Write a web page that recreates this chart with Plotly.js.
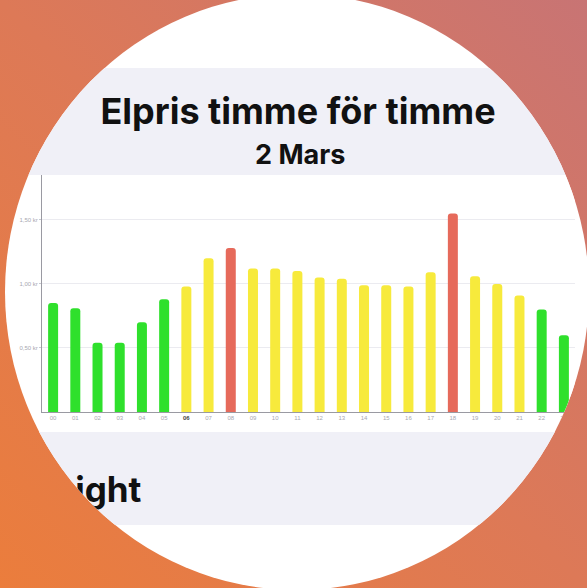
<!DOCTYPE html>
<html>
<head>
<meta charset="utf-8">
<script src="https://cdn.plot.ly/plotly-3.0.1.min.js"></script>
<style>
  html, body { margin: 0; padding: 0; }
  body {
    width: 587px; height: 588px; overflow: hidden; position: relative;
    background: linear-gradient(45deg, #eb7d3c 0%, #dd7957 50%, #c87474 100%);
  }
  #clip {
    position: absolute; left: 5px; top: -6px; width: 584px; height: 596px;
    border-radius: 50%; overflow: hidden; background: #ffffff;
  }
  #chart { position: absolute; left: -5px; top: 6px; width: 587px; height: 588px; }
</style>
</head>
<body>
<div id="clip"><div id="chart"></div></div>
<script>
// ---- data ----
const hours = ["00","01","02","03","04","05","06","07","08","09","10","11",
               "12","13","14","15","16","17","18","19","20","21","22","23"];
const prices = [0.85, 0.81, 0.54, 0.54, 0.70, 0.88, 0.98, 1.20, 1.28, 1.12, 1.12, 1.10,
                1.05, 1.04, 0.99, 0.99, 0.98, 1.09, 1.55, 1.06, 1.00, 0.91, 0.80, 0.60];
const yTickVals = [0.5, 1.0, 1.5];
const yTickText = ["0,50 kr", "1,00 kr", "1,50 kr"];
const currentHour = "06";
const titleText = "Elpris timme för timme";
const subtitleText = "2 Mars";
const footerText = "Insight";

// colour levels
const GREEN = "#2fe02c", YELLOW = "#f7ea3c", RED = "#e66a5b";
const barColors = prices.map(v => v < 0.9 ? GREEN : (v > 1.25 ? RED : YELLOW));
const xTickText = hours.map(h => h === currentHour
  ? '<span style="color:#444;font-weight:bold">' + h + '</span>' : h);

const trace = {
  type: "bar",
  x: hours,
  y: prices,
  marker: { color: barColors, line: { width: 0 } },
  hoverinfo: "skip"
};

const layout = {
  width: 587, height: 588,
  margin: { l: 42, r: 12, t: 175, b: 176, pad: 0 },
  paper_bgcolor: "rgba(0,0,0,0)",
  plot_bgcolor: "#ffffff",
  bargap: 0.55,
  barcornerradius: 3,
  showlegend: false,
  title: {
    text: titleText,
    x: 298 / 587, xanchor: "center",
    y: 1 - 111 / 588, yanchor: "middle", yref: "container",
    font: { family: "Inter, 'Liberation Sans', sans-serif", size: 36, weight: 700, color: "#111111" }
  },
  xaxis: {
    type: "category",
    range: [-0.5, 23.5],
    tickvals: hours, ticktext: xTickText,
    tickfont: { family: "'Liberation Sans', sans-serif", size: 6, color: "#a8a8b0" },
    showline: true, linecolor: "#9a9aa2", linewidth: 1,
    ticks: "", showgrid: false, zeroline: false, fixedrange: true
  },
  yaxis: {
    range: [0, 1.85],
    tickvals: yTickVals, ticktext: yTickText,
    tickfont: { family: "'Liberation Sans', sans-serif", size: 6, color: "#a8a8b0" },
    showline: true, linecolor: "#9a9aa2", linewidth: 1,
    ticks: "outside", ticklen: 2, tickcolor: "#c8c8d0",
    showgrid: true, gridcolor: "#ebebf0", gridwidth: 1,
    zeroline: false, fixedrange: true
  },
  shapes: [
    { type: "rect", xref: "paper", yref: "paper", layer: "below",
      x0: -0.2, x1: 1.2, y0: (412 - 175) / 237, y1: (412 - 68) / 237,
      fillcolor: "#f0f0f7", line: { width: 0 } },
    { type: "rect", xref: "paper", yref: "paper", layer: "below",
      x0: -0.2, x1: 1.2, y0: (412 - 525) / 237, y1: (412 - 432) / 237,
      fillcolor: "#f0f0f7", line: { width: 0 } }
  ],
  annotations: [
    { text: subtitleText, xref: "paper", yref: "paper",
      x: (300 - 42) / 533, y: (412 - 155) / 237, xanchor: "center", yanchor: "middle",
      showarrow: false,
      font: { family: "Inter, 'Liberation Sans', sans-serif", size: 27, weight: 700, color: "#111111" } },
    { text: footerText, xref: "paper", yref: "paper",
      x: (144 - 42) / 533, y: (412 - 489) / 237, xanchor: "right", yanchor: "middle",
      showarrow: false,
      font: { family: "Inter, 'Liberation Sans', sans-serif", size: 35, weight: 700, color: "#111111" } }
  ]
};

Plotly.newPlot("chart", [trace], layout, { displayModeBar: false, staticPlot: true });
</script>
</body>
</html>
